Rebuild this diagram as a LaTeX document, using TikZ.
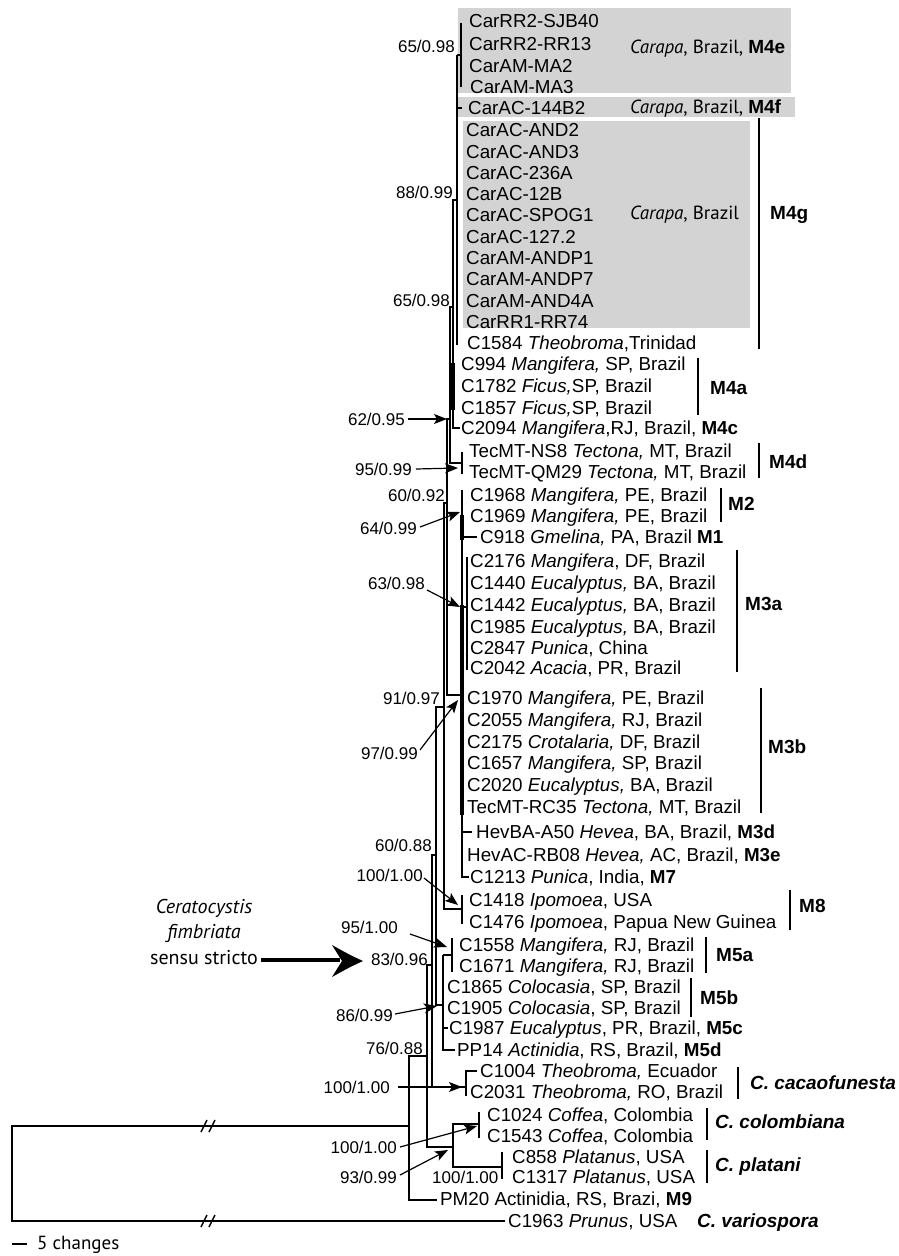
\documentclass[tikz,border=0pt]{standalone}
\usepackage{fontspec}
\setmainfont{Liberation Sans}
\newfontfamily\myr{PT Sans}
\usetikzlibrary{arrows.meta}
\definecolor{boxgray}{RGB}{211,211,211}
\newcommand\labsize{\fontsize{18.8}{20}\selectfont}
\newcommand\supsize{\fontsize{17}{18}\selectfont}
\newcommand\cladesize{\fontsize{19}{20}\selectfont}
\begin{document}
\begin{tikzpicture}[x=1pt,y=-1pt,
  leaf/.style={anchor=west, inner sep=0pt, text height=13.4pt, text depth=0pt, font=\labsize},
  sup/.style={anchor=east, inner sep=0pt, text height=12.2pt, text depth=0pt, font=\supsize},
  clade/.style={anchor=west, inner sep=0pt, text height=13.6pt, text depth=0pt, font=\cladesize\bfseries},
  car/.style={anchor=west, inner sep=0pt, text height=13.6pt, text depth=0pt, font=\myr\fontsize{19}{20}\selectfont},
  tree/.style={line width=1.4pt},
  bar/.style={line width=3.5pt},
  arr/.style={line width=1.2pt, -{Stealth[length=13pt,width=10pt,inset=3pt]}},
  ]
\useasboundingbox (0,0) rectangle (899,1256);
\fill[white] (0,0) rectangle (899,1256);

% gray boxes
\fill[boxgray] (458,8) rectangle (791,93);
\fill[boxgray] (458,97) rectangle (795,117);
\fill[boxgray] (463,121) rectangle (750,328);

% leaves
\node[leaf] (l1) at (469,21) {CarRR2-SJB40};
\node[leaf] (l2) at (469,44) {CarRR2-RR13};
\node[leaf] (l3) at (469,66) {CarAM-MA2};
\node[leaf] (l4) at (470,87) {CarAM-MA3};
\node[leaf] (l5) at (468,108) {CarAC-144B2};
\node[leaf] (l6) at (466,130) {CarAC-AND2};
\node[leaf] (l7) at (466,152) {CarAC-AND3};
\node[leaf] (l8) at (466,173) {CarAC-236A};
\node[leaf] (l9) at (466,194) {CarAC-12B};
\node[leaf] (l10) at (466,215) {CarAC-SPOG1};
\node[leaf] (l11) at (466,237) {CarAC-127.2};
\node[leaf] (l12) at (466,258) {CarAM-ANDP1};
\node[leaf] (l13) at (466,279) {CarAM-ANDP7};
\node[leaf] (l14) at (466,301) {CarAM-AND4A};
\node[leaf] (l15) at (466,322) {CarRR1-RR74};
\node[leaf] (l16) at (467,343) {C1584 \textit{Theobroma},Trinidad};
\node[leaf] (l17) at (461,364) {C994 \textit{Mangifera,} SP, Brazil};
\node[leaf] (l18) at (461,386) {C1782 \textit{Ficus,}SP, Brazil};
\node[leaf] (l19) at (461,408) {C1857 \textit{Ficus,}SP, Brazil};
\node[leaf] (l20) at (461,428) {C2094 \textit{Mangifera},RJ, Brazil, \textbf{M4c}};
\node[leaf] (l21) at (469,451) {TecMT-NS8 \textit{Tectona,} MT, Brazil};
\node[leaf] (l22) at (469,472) {TecMT-QM29 \textit{Tectona,} MT, Brazil};
\node[leaf] (l23) at (470,495) {C1968 \textit{Mangifera,} PE, Brazil};
\node[leaf] (l24) at (470,516) {C1969 \textit{Mangifera,} PE, Brazil};
\node[leaf] (l25) at (480,537) {C918 \textit{Gmelina,} PA, Brazil \textbf{M1}};
\node[leaf] (l26) at (470,561) {C2176 \textit{Mangifera}, DF, Brazil};
\node[leaf] (l27) at (470,583) {C1440 \textit{Eucalyptus,} BA, Brazil};
\node[leaf] (l28) at (470,605) {C1442 \textit{Eucalyptus,} BA, Brazil};
\node[leaf] (l29) at (470,627) {C1985 \textit{Eucalyptus,} BA, Brazil};
\node[leaf] (l30) at (470,648) {C2847 \textit{Punica}, China};
\node[leaf] (l31) at (470,668) {C2042 \textit{Acacia}, PR, Brazil};
\node[leaf] (l32) at (467,698) {C1970 \textit{Mangifera,} PE, Brazil};
\node[leaf] (l33) at (467,720) {C2055 \textit{Mangifera,} RJ, Brazil};
\node[leaf] (l34) at (467,742) {C2175 \textit{Crotalaria,} DF, Brazil};
\node[leaf] (l35) at (467,763) {C1657 \textit{Mangifera,} SP, Brazil};
\node[leaf] (l36) at (467,785) {C2020 \textit{Eucalyptus,} BA, Brazil};
\node[leaf] (l37) at (467,807) {TecMT-RC35 \textit{Tectona,} MT, Brazil};
\node[leaf] (l38) at (476,832) {HevBA-A50 \textit{Hevea}, BA, Brazil, \textbf{M3d}};
\node[leaf] (l39) at (467,855) {HevAC-RB08 \textit{Hevea,} AC, Brazil, \textbf{M3e}};
\node[leaf] (l40) at (470,877) {C1213 \textit{Punica}, India, \textbf{M7}};
\node[leaf] (l41) at (469,900) {C1418 \textit{Ipomoea}, USA};
\node[leaf] (l42) at (469,922) {C1476 \textit{Ipomoea}, Papua New Guinea};
\node[leaf] (l43) at (459,945) {C1558 \textit{Mangifera,} RJ, Brazil};
\node[leaf] (l44) at (459,966) {C1671 \textit{Mangifera,} RJ, Brazil};
\node[leaf] (l45) at (447,987) {C1865 \textit{Colocasia}, SP, Brazil};
\node[leaf] (l46) at (447,1008) {C1905 \textit{Colocasia}, SP, Brazil};
\node[leaf] (l47) at (449,1028) {C1987 \textit{Eucalyptus}, PR, Brazil, \textbf{M5c}};
\node[leaf] (l48) at (457,1050) {PP14 \textit{Actinidia}, RS, Brazil, \textbf{M5d}};
\node[leaf] (l49) at (480,1071) {C1004 \textit{Theobroma,} Ecuador};
\node[leaf] (l50) at (470,1092) {C2031 \textit{Theobroma,} RO, Brazil};
\node[leaf] (l51) at (487,1115) {C1024 \textit{Coffea}, Colombia};
\node[leaf] (l52) at (487,1136) {C1543 \textit{Coffea}, Colombia};
\node[leaf] (l53) at (512,1157) {C858 \textit{Platanus}, USA};
\node[leaf] (l54) at (512,1177) {C1317 \textit{Platanus}, USA};
\node[leaf] (l55) at (440,1199) {PM20 Actinidia, RS, Brazi, \textbf{M9}};
\node[leaf] (l56) at (508,1221) {C1963 \textit{Prunus}, USA};

% tree
\begin{scope}[tree]
\draw (461,23) -- (461,87);
\draw (457,55) -- (461,55);
\draw (457,55) -- (457,345);
\draw (457,108) -- (462,108);
\draw (457,200) -- (453,200) -- (453,428) -- (460,428);
\draw (453,307) -- (450,307) -- (450,463) -- (462,463);
\draw (462,452) -- (462,474);
\draw (450,419) -- (447,419) -- (447,695) -- (462,695);
\draw (447,503) -- (444,503) -- (444,909) -- (462,909);
\draw (462,895) -- (462,924);
\draw (444,707) -- (436,707) -- (436,1005) -- (443,1005);
\draw (443,955) -- (452,955);
\draw (452,938) -- (452,972);
\draw (443,955) -- (443,1050) -- (455,1050);
\draw (443,1028) -- (448,1028);
\draw (436,855) -- (432,855) -- (432,1087) -- (466,1087);
\draw (477,1071) -- (466,1071) -- (466,1096);
\draw (432,965) -- (427,965) -- (427,1147) -- (453,1147);
\draw (479,1124) -- (453,1124) -- (453,1167) -- (502,1167);
\draw (479,1112) -- (479,1138);
\draw (502,1152) -- (502,1179);
\draw (427,1056) -- (409,1056) -- (409,1200) -- (437,1200);
\draw (409,1126) -- (12,1126) -- (12,1221) -- (505,1221);
\draw (462,490) -- (462,515);
\draw (462,537) -- (477,537);
\draw (462,540) -- (462,605);
\draw (462,607) -- (467,607);
\draw (467,557) -- (467,670);
\draw (462,815) -- (462,877) -- (469,877);
\draw (462,832) -- (472,832);
\foreach \yy in {1126,1221} {
  \draw (201,\yy+6) -- (207,\yy-6);
  \draw (209,\yy+6) -- (215,\yy-6);
}
\end{scope}
\draw[bar] (453,363) -- (453,410);
\draw[bar] (462,515) -- (462,540);
\draw[bar] (462,605) -- (462,815);

% support values
\node[sup] (s1) at (455,46) {65/0.98};
\node[sup] (s2) at (453,192) {88/0.99};
\node[sup] (s3) at (450,300) {65/0.98};
\node[sup] (s4) at (405,419) {62/0.95};
\node[sup] (s5) at (412,469) {95/0.99};
\node[sup] (s6) at (445,495) {60/0.92};
\node[sup] (s7) at (417,528) {64/0.99};
\node[sup] (s8) at (425,583) {63/0.98};
\node[sup] (s9) at (440,698) {91/0.97};
\node[sup] (s10) at (418,753) {97/0.99};
\node[sup] (s11) at (432,845) {60/0.88};
\node[sup] (s12) at (423,875) {100/1.00};
\node[sup] (s13) at (398,927) {95/1.00};
\node[sup] (s14) at (428,959) {83/0.96};
\node[sup] (s15) at (393,1015) {86/0.99};
\node[sup] (s16) at (423,1048) {76/0.88};
\node[sup] (s17) at (390,1087) {100/1.00};
\node[sup] (s18) at (397,1147) {100/1.00};
\node[sup] (s19) at (397,1177) {93/0.99};
\node[sup,anchor=west] (s20) at (432,1177) {100/1.00};

% arrows
\draw[arr] ([xshift=3pt]s4.east) -- (447,419);
\draw[arr] ([xshift=4pt]s5.east) -- (458,468);
\draw[arr] ([shift={(3,-1)}]s7.east) -- (460,512);
\draw[arr] ([shift={(2,7)}]s8.east) -- (460,607);
\draw[arr] ([shift={(2,-3)}]s10.east) -- (458,700);
\draw[arr] ([shift={(1,3)}]s12.east) -- (458,905);
\draw[arr] ([shift={(12,7)}]s13.east) -- (447,947);
\draw[arr] ([shift={(2,-1)}]s15.east) -- (437,1006);
\draw[arr] ([shift={(8,0)}]s17.east) -- (462,1087);
\draw[arr] ([shift={(3,0)}]s18.east) -- (477,1126);
\draw[arr] ([shift={(3,-2)}]s19.east) -- (448,1150);

% Carapa labels
\node[car] (c1) at (630,47) {\textit{Carapa}, Brazil, {\rmfamily\bfseries M4e}};
\node[car] (c2) at (630,107) {\textit{Carapa}, Brazil, {\rmfamily\bfseries M4f}};
\node[car] (c3) at (630,213) {\textit{Carapa}, Brazil};

% clade brackets and labels
\begin{scope}[tree]
\draw (759,118) -- (759,349);
\draw (698,358) -- (698,415);
\draw (759,443) -- (759,478);
\draw (721,488) -- (721,522);
\draw (737,550) -- (737,672);
\draw (761,688) -- (761,813);
\draw (790,890) -- (790,930);
\draw (706,937) -- (706,973);
\draw (691,978) -- (691,1017);
\draw (738,1067) -- (738,1099);
\draw (707,1108) -- (707,1140);
\draw (707,1150) -- (707,1183);
\end{scope}
\node[clade] (m4g) at (770,213) {M4g};
\node[clade] (m4a) at (710,388) {M4a};
\node[clade] (m4d) at (769,462) {M4d};
\node[clade] (m2) at (728,504) {M2};
\node[clade] (m3a) at (745,604) {M3a};
\node[clade] (m3b) at (768,747) {M3b};
\node[clade] (m8) at (799,906) {M8};
\node[clade] (m5a) at (716,955) {M5a};
\node[clade] (m5b) at (700,998) {M5b};
\node[clade,font=\cladesize\bfseries\itshape] (cc) at (750,1083) {C. cacaofunesta};
\node[clade,font=\cladesize\bfseries\itshape] (ccol) at (715,1122) {C. colombiana};
\node[clade,font=\cladesize\bfseries\itshape] (cpl) at (715,1165) {C. platani};
\node[clade,font=\cladesize\bfseries\itshape] (cvar) at (697,1221) {C. variospora};

% Ceratocystis fimbriata s.s.
\node[car,anchor=center,text height=14pt] (cf1) at (204,906) {\fontsize{20}{22}\selectfont\textit{Ceratocystis}};
\node[car,anchor=center,text height=14pt] (cf2) at (204,931) {\fontsize{20}{22}\selectfont\textit{fimbriata}};
\node[car,anchor=center,text height=14pt] (cf3) at (204,957) {\fontsize{20}{22}\selectfont sensu stricto};
\draw[line width=4pt] (cf3.east |- 0,960) ++(3,0) -- (340,960);
\fill (363,961) .. controls (350,955) .. (332,945) -- (342,961) -- (332,977) .. controls (350,967) .. (363,961) -- cycle;

% scale bar
\coordinate (sb1) at (12,1244);
\coordinate (sb2) at (27,1244);
\draw[line width=1.5pt] (sb1) -- (sb2);
\node[car] (sc) at (37,1243) {5 changes};
\end{tikzpicture}
\end{document}
